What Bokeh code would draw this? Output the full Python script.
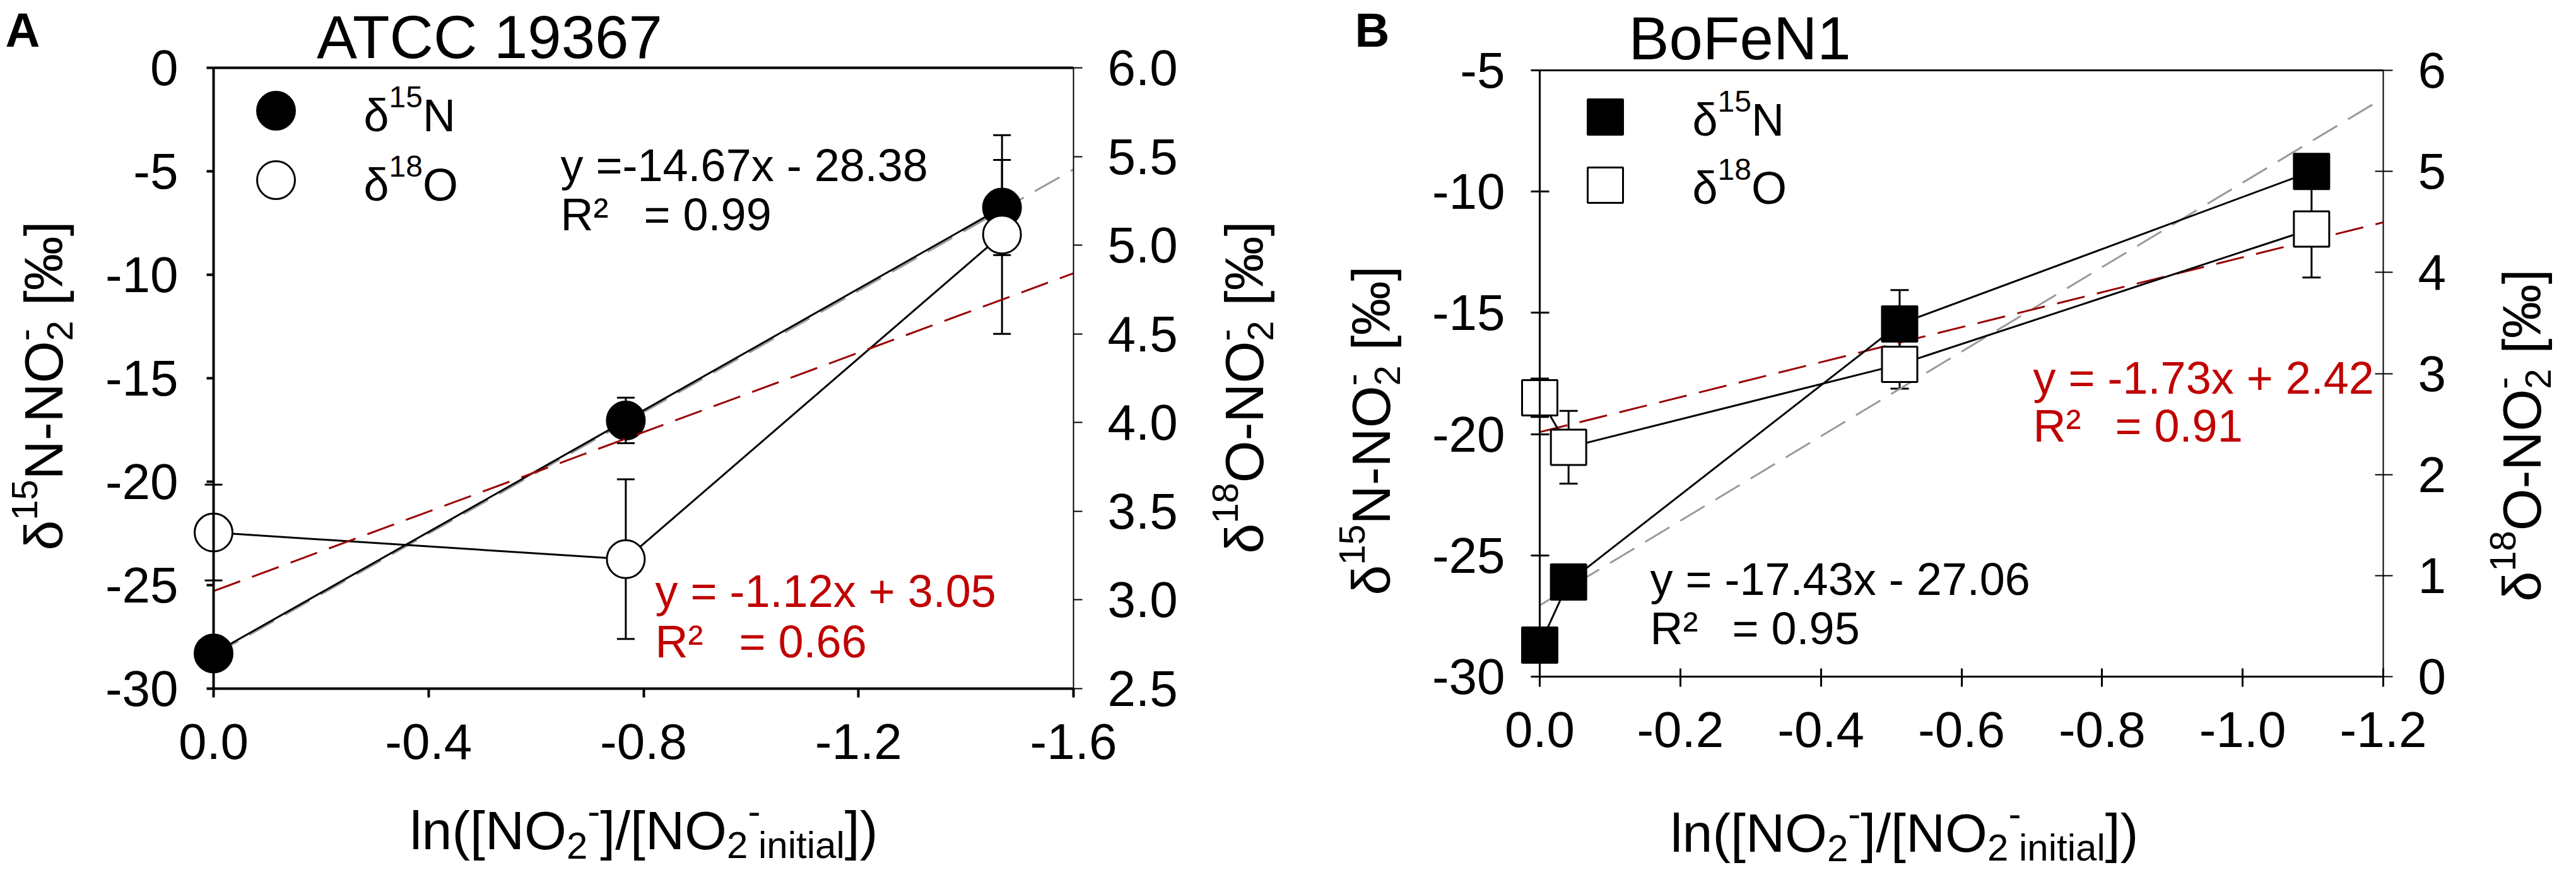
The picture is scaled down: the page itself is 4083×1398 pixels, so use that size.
from math import pi
from bokeh.plotting import figure
from bokeh.models import (Range1d, LinearAxis, FixedTicker, CustomJSTickFormatter,
                          Label, Whisker, TeeHead, ColumnDataSource)
from bokeh.layouts import row
from bokeh.embed import file_html
from bokeh.resources import INLINE

FONT = "Liberation Sans"
RED_TXT = "#C00000"
RED_LINE = "#990000"
GRAY_LINE = "#999999"

# ---------------- data: panel A (ATCC 19367) ----------------
a_x = [0.0, -0.767, -1.467]
a_n15 = [-28.3, -17.04, -6.75]
a_n15_err = [0.3, 1.1, 2.3]
a_o18 = [3.38, 3.23, 5.06]
a_o18_err = [0.27, 0.45, 0.56]
a_fit_n15 = (-14.67, -28.38)   # slope, intercept (left axis)
a_fit_o18 = (-1.12, 3.05)      # slope, intercept (right axis)
a_fit_x = [0.0, -1.6]
a_xticks = [0.0, -0.4, -0.8, -1.2, -1.6]
a_xlabels = ["0.0", "-0.4", "-0.8", "-1.2", "-1.6"]
a_yticks = [0, -5, -10, -15, -20, -25, -30]
a_ylabels = ["0", "-5", "-10", "-15", "-20", "-25", "-30"]
a_y2ticks = [2.5, 3.0, 3.5, 4.0, 4.5, 5.0, 5.5, 6.0]
a_y2labels = ["2.5", "3.0", "3.5", "4.0", "4.5", "5.0", "5.5", "6.0"]

# ---------------- data: panel B (BoFeN1) ----------------
b_x = [0.0, -0.041, -0.512, -1.098]
b_n15 = [-28.7, -26.1, -15.46, -9.17]
b_n15_err = [0.3, 0.3, 1.4, 0.5]
b_o18 = [2.76, 2.27, 3.09, 4.43]
b_o18_err = [0.19, 0.36, 0.24, 0.48]
b_fit_n15 = (-17.43, -27.06)
b_fit_o18 = (-1.73, 2.42)
b_fit_x = [0.0, -1.2]
b_xticks = [0.0, -0.2, -0.4, -0.6, -0.8, -1.0, -1.2]
b_xlabels = ["0.0", "-0.2", "-0.4", "-0.6", "-0.8", "-1.0", "-1.2"]
b_yticks = [-5, -10, -15, -20, -25, -30]
b_ylabels = ["-5", "-10", "-15", "-20", "-25", "-30"]
b_y2ticks = [0, 1, 2, 3, 4, 5, 6]
b_y2labels = ["0", "1", "2", "3", "4", "5", "6"]

# ---------------- layout (page pixels) ----------------
M = 8
A_L, A_R, A_T, A_B = 346, 1709, 115, 1099
B_L, B_R, B_T, B_B = 2448, 3785, 119, 1080
WA, WB, H = 2040, 2027, 1382

W = {' ': 278, '(': 333, ')': 333, '-': 333, '.': 278, '/': 278, '=': 584, '+': 584,
     'A': 667, 'B': 667, 'C': 722, 'F': 611, 'N': 722, 'O': 778, 'R': 722, 'T': 611,
     '[': 278, ']': 278, 'a': 556, 'e': 556, 'i': 222, 'l': 222, 'n': 556, 'o': 556,
     't': 278, 'x': 500, 'y': 500, 'δ': 556, '‰': 1000, '²': 333}
WBOLD = {'A': 722, 'B': 722}


def tw(s, size, bold=False):
    tab = dict(W, **WBOLD) if bold else W
    return sum(tab.get(c, 556) for c in s) * size / 1000.0


def lin(p, p0, p1, v0, v1):
    return v0 + (p - p0) / (p1 - p0) * (v1 - v0)


def labels_formatter(ticks, labels):
    return CustomJSTickFormatter(args=dict(tk=ticks, lb=labels), code="""
        for (let i = 0; i < tk.length; i++) { if (Math.abs(tk[i] - tick) < 1e-9) return lb[i]; }
        return "";""")


def rich(p, conv, x0, y0, pieces, vertical=False, color="black", bold=False):
    """Place text pieces (text, size, baseline shift, advance) starting at baseline point x0,y0
    (page pixels).  Each piece is anchored at its centre, which is robust under rotation."""
    pen = 0.0
    for text, size, shift, adv in pieces:
        w = tw(text, size, bold)
        if text.strip():
            up = shift + 0.35 * size
            along = pen + w / 2.0
            if vertical:
                px, py = x0 - up, y0 - along
            else:
                px, py = x0 + along, y0 - up
            xd, yd = conv(px, py)
            p.add_layout(Label(x=xd, y=yd, text=text, text_font=FONT,
                               text_font_size=f"{size}px", text_color=color,
                               text_font_style="bold" if bold else "normal",
                               text_baseline="middle", text_align="center",
                               angle=pi / 2 if vertical else 0))
        if adv:
            pen += w


def style_axis(ax, ticks, labels, lw, tin, tout, standoff):
    ax.ticker = FixedTicker(ticks=ticks)
    ax.formatter = labels_formatter(ticks, labels)
    ax.axis_line_width = lw
    ax.axis_line_color = "black"
    ax.major_tick_line_width = lw
    ax.major_tick_line_color = "black"
    ax.major_tick_in = tin
    ax.major_tick_out = tout
    ax.minor_tick_line_color = None
    ax.major_label_text_font = FONT
    ax.major_label_text_font_size = "80px"
    ax.major_label_text_color = "black"
    ax.major_label_standoff = standoff


def conv_for(L, R, T, B, xv, yv):
    def conv(px, py):
        return lin(px, L, R, xv[0], xv[1]), lin(py, T, B, yv[0], yv[1])
    return conv


def build(width, x0page, L, R, T, B, xv, yv, y2v, lw, ticks, tickgeo):
    """The frame covers the whole canvas; the four panel axes are pinned with fixed_location."""
    (x_left, x_right), (y_top, y_bot), (y2_top, y2_bot) = xv, yv, y2v
    xs, xe = lin(x0page, L, R, x_left, x_right), lin(x0page + width, L, R, x_left, x_right)
    yt, yb = lin(M, T, B, y_top, y_bot), lin(M + H, T, B, y_top, y_bot)
    y2t, y2b = lin(M, T, B, y2_top, y2_bot), lin(M + H, T, B, y2_top, y2_bot)
    p = figure(width=width, height=H, output_backend="svg", toolbar_location=None,
               x_range=Range1d(xs, xe), y_range=Range1d(yb, yt),
               x_axis_location=None, y_axis_location=None,
               min_border_left=0, min_border_right=0, min_border_top=0, min_border_bottom=0)
    p.extra_y_ranges = {"o18": Range1d(y2b, y2t)}
    p.grid.visible = False
    p.outline_line_color = None
    p.background_fill_color = "white"
    p.border_fill_color = "white"
    xbd = (min(x_left, x_right), max(x_left, x_right))
    ybd = (min(y_top, y_bot), max(y_top, y_bot))
    y2bd = (min(y2_top, y2_bot), max(y2_top, y2_bot))

    axl = LinearAxis(fixed_location=x_left, bounds=ybd)
    style_axis(axl, ticks[0][0], ticks[0][1], lw[0], *tickgeo[0])
    p.add_layout(axl, "left")
    axb = LinearAxis(fixed_location=y_bot, bounds=xbd)
    style_axis(axb, ticks[1][0], ticks[1][1], lw[1], *tickgeo[1])
    p.add_layout(axb, "below")
    axr = LinearAxis(y_range_name="o18", fixed_location=x_right, bounds=y2bd)
    style_axis(axr, ticks[2][0], ticks[2][1], lw[2], *tickgeo[2])
    p.add_layout(axr, "right")
    axt = LinearAxis(fixed_location=y_top, bounds=xbd, ticker=FixedTicker(ticks=[]),
                     axis_line_width=lw[3], major_label_text_font_size="0px",
                     minor_tick_line_color=None, major_tick_line_color=None)
    p.add_layout(axt, "above")
    return p, conv_for(L, R, T, B, xv, yv)


def error_bars(p, xs, vals, errs, rn, cap):
    src = ColumnDataSource(dict(x=xs, lo=[v - e for v, e in zip(vals, errs)],
                                hi=[v + e for v, e in zip(vals, errs)]))
    p.add_layout(Whisker(source=src, base="x", lower="lo", upper="hi", dimension="height",
                         line_width=3, line_color="black", level="underlay", y_range_name=rn,
                         upper_head=TeeHead(size=cap, line_width=3, line_color="black"),
                         lower_head=TeeHead(size=cap, line_width=3, line_color="black")))


F, S = 86, 58


def ylab(iso, el):
    return [("δ", F, 0, 1), (iso, S, 40, 1), (el + "-NO", F, 0, 1), ("-", S, 40, 0),
            ("2", S, -16, 1), (" ", F, 0, 1), ("[‰]", F, 0, 1)]


xlab = [("ln([NO", F, 0, 1), ("2", 60, -15, 1), ("-", 60, 40, 1), ("]/[NO", F, 0, 1),
        ("2", 60, -14, 1), ("-", 60, 40, 0), (" ", 60, 0, 1), ("initial", 60, -14, 1), ("])", F, 0, 1)]

# ======================= Panel A =======================
pA, convA = build(WA, M, A_L, A_R, A_T, A_B, (0.0, -1.6), (0.0, -30.0), (6.0, 2.5),
                  (4, 4, 2, 4),
                  ((a_yticks, a_ylabels), (a_xticks, a_xlabels), (a_y2ticks, a_y2labels)),
                  ((0, 11, 45), (0, 14, 42), (0, 14, 40)))

error_bars(pA, a_x, a_n15, a_n15_err, "default", 28)
error_bars(pA, a_x, a_o18, a_o18_err, "o18", 28)
pA.line(a_fit_x, [a_fit_n15[0] * x + a_fit_n15[1] for x in a_fit_x], line_color=GRAY_LINE,
        line_width=3, line_dash="45 20")
pA.line(a_x, a_n15, line_color="black", line_width=3)
pA.line(a_x, a_o18, line_color="black", line_width=3, y_range_name="o18")
pA.scatter(a_x, a_n15, marker="circle", size=60, fill_color="black", line_color="black", line_width=3)
pA.scatter(a_x, a_o18, marker="circle", size=60, fill_color="white", line_color="black",
           line_width=3, y_range_name="o18")
pA.line(a_fit_x, [a_fit_o18[0] * x + a_fit_o18[1] for x in a_fit_x], line_color=RED_LINE,
        line_width=3, line_dash="45 20", y_range_name="o18")

lx, ly1 = convA(445, 183)
_, ly2 = convA(445, 293)
pA.scatter([lx], [ly1], marker="circle", size=60, fill_color="black", line_color="black", line_width=3)
pA.scatter([lx], [ly2], marker="circle", size=60, fill_color="white", line_color="black", line_width=3)
rich(pA, convA, 584, 216, [("δ", 72, 0, 1), ("15", 48, 38, 1), ("N", 72, 0, 1)])
rich(pA, convA, 584, 326, [("δ", 72, 0, 1), ("18", 48, 38, 1), ("O", 72, 0, 1)])

rich(pA, convA, 16, 82, [("A", 76, 0, 1)], bold=True)
rich(pA, convA, 506, 100, [("ATCC 19367", 96, 0, 1)])
rich(pA, convA, 896, 295, [("y =-14.67x - 28.38", 72, 0, 1)])
rich(pA, convA, 896, 373, [("R²", 72, 0, 1)])
rich(pA, convA, 1028, 373, [("= 0.99", 72, 0, 1)])
rich(pA, convA, 1046, 970, [("y = -1.12x + 3.05", 72, 0, 1)], color=RED_TXT)
rich(pA, convA, 1046, 1050, [("R²", 72, 0, 1)], color=RED_TXT)
rich(pA, convA, 1179, 1050, [("= 0.66", 72, 0, 1)], color=RED_TXT)

rich(pA, convA, 107, 880, ylab("15", "N"), vertical=True)
rich(pA, convA, 2010, 885, ylab("18", "O"), vertical=True)
rich(pA, convA, 657, 1354, xlab)

# ======================= Panel B =======================
pB, convB = build(WB, M + WA, B_L, B_R, B_T, B_B, (0.0, -1.2), (-5.0, -30.0), (6.0, 0.0),
                  (3, 3, 2, 3),
                  ((b_yticks, b_ylabels), (b_xticks, b_xlabels), (b_y2ticks, b_y2labels)),
                  ((15, 14, 41), (13, 16, 40), (13, 15, 40)))

error_bars(pB, b_x, b_n15, b_n15_err, "default", 29)
error_bars(pB, b_x, b_o18, b_o18_err, "o18", 29)
pB.line(b_fit_x, [b_fit_n15[0] * x + b_fit_n15[1] for x in b_fit_x], line_color=GRAY_LINE,
        line_width=3, line_dash="45 20")
pB.line(b_fit_x, [b_fit_o18[0] * x + b_fit_o18[1] for x in b_fit_x], line_color=RED_LINE,
        line_width=3, line_dash="45 20", y_range_name="o18")
pB.line(b_x, b_n15, line_color="black", line_width=3)
pB.line(b_x, b_o18, line_color="black", line_width=3, y_range_name="o18")
pB.scatter(b_x, b_n15, marker="square", size=56, fill_color="black", line_color="black", line_width=3)
pB.scatter(b_x, b_o18, marker="square", size=56, fill_color="white", line_color="black",
           line_width=3, y_range_name="o18")

lx, ly1 = convB(2552, 193)
_, ly2 = convB(2552, 301)
pB.scatter([lx], [ly1], marker="square", size=56, fill_color="black", line_color="black", line_width=3)
pB.scatter([lx], [ly2], marker="square", size=56, fill_color="white", line_color="black", line_width=3)
rich(pB, convB, 2690, 223, [("δ", 72, 0, 1), ("15", 48, 38, 1), ("N", 72, 0, 1)])
rich(pB, convB, 2690, 331, [("δ", 72, 0, 1), ("18", 48, 38, 1), ("O", 72, 0, 1)])

rich(pB, convB, 2155, 82, [("B", 76, 0, 1)], bold=True)
rich(pB, convB, 2589, 102, [("BoFeN1", 96, 0, 1)])
rich(pB, convB, 2623, 951, [("y = -17.43x - 27.06", 72, 0, 1)])
rich(pB, convB, 2623, 1029, [("R²", 72, 0, 1)])
rich(pB, convB, 2753, 1029, [("= 0.95", 72, 0, 1)])
rich(pB, convB, 3230, 632, [("y = -1.73x + 2.42", 72, 0, 1)], color=RED_TXT)
rich(pB, convB, 3230, 708, [("R²", 72, 0, 1)], color=RED_TXT)
rich(pB, convB, 3360, 708, [("= 0.91", 72, 0, 1)], color=RED_TXT)

rich(pB, convB, 2211, 951, ylab("15", "N"), vertical=True)
rich(pB, convB, 4035, 961, ylab("18", "O"), vertical=True)
rich(pB, convB, 2655, 1358, xlab)

layout = row(pA, pB)
open("out.html", "w").write(file_html(layout, INLINE))
